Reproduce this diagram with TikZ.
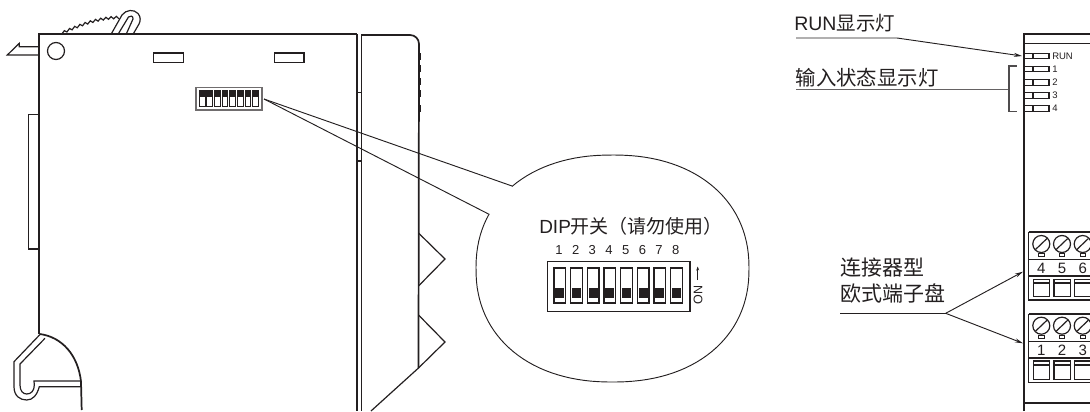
\documentclass[tikz,border=0pt]{standalone}
\usepackage{fontspec}
\setmainfont{Liberation Sans}
\newfontfamily\cjk{Noto Sans CJK SC}
\usetikzlibrary{arrows.meta}
\definecolor{ink}{HTML}{231F20}
\tikzset{
  line/.style={draw=ink,line width=0.9pt},
  thin line/.style={draw=ink,line width=0.65pt},
  heavy/.style={draw=ink,line width=1.3pt},
  leader/.style={draw=ink,line width=0.7pt},
  lbl/.style={inner sep=0pt,text=ink},
  lead arrow/.style={leader,-{Stealth[length=6pt,width=3pt]}},
}
\newcommand{\px}[1]{\fontsize{\fpeval{#1*0.75}pt}{\fpeval{#1*0.9}pt}\selectfont}
\begin{document}
\begin{tikzpicture}[x=0.75pt,y=-0.75pt]
\useasboundingbox (0,0) rectangle (1090,411);
% ---------- left device ----------
\draw[heavy] (39.3,334) -- (39.3,34) -- (357,34);
\draw[line] (39,46.7) -- (19.3,46.7) -- (19.3,43.3) -- (7.3,55) -- (39,55);
\draw[line] (56,51) circle (8.5);
\draw[line] (153.7,53) rectangle (183.7,62.7);
\draw[line] (274.3,53) rectangle (304,62.7);
\draw[line] (39,114.3) -- (28.3,114.3) -- (28.3,249) -- (39,249);
% knurled lever
\draw[line] plot[samples=23,domain=0:22] ({61.7+\x*2.6},{33-15.5*sin(\x*4.1)+1.2*cos(\x*180)});
\draw[line] (111.5,33.5) -- (122,15) .. controls (126,9.5) and (134,9) .. (138,13.5) .. controls (141,17) and (140.5,21) .. (139,24) -- (133.5,33.5);
\draw[line] (118.5,33.5) -- (128.5,17) .. controls (130,15) and (133.5,16) .. (133,19) -- (126.5,33.5);
% bottom hook
\draw[heavy] (39.8,334) .. controls (62,337) and (78,355) .. (81,381.5) -- (81.7,410);
\draw[line] (40,334.5) -- (14,361.7) -- (14,386.7) .. controls (14,396) and (20,400) .. (26.7,400) .. controls (33,400) and (37,395) .. (39.3,386.7) -- (81.7,386.7);
\draw[line] (45,338.3) -- (20,364) -- (20,385) .. controls (20,391) and (23,394) .. (26.7,394) .. controls (31,394) and (34.3,391) .. (34.3,385) -- (34,381) -- (81,381);
% right body
\draw[heavy] (357,34) -- (357,411);
\draw[line] (361.7,34) -- (361.7,411);
\draw[line] (357,92.3) -- (361.7,92.3) (357,161) -- (361.7,161);
\draw[heavy] (362,35) -- (410,35) .. controls (415,35) and (419,39) .. (419,44) -- (418.5,368);
\foreach \y in {53,65,78,90,105}
  \draw[draw=ink,line width=2pt] (419.2,\y) -- (419.2,\y+7);
\draw[line] (418.5,233) -- (445,259) -- (418.5,286);
\draw[line] (418.5,315) -- (445,342) -- (418.5,368) -- (371,411);
% mini DIP
\draw[draw=ink!65,line width=1.1pt] (196,87.3) rectangle (262,110);
\foreach \i in {0,...,7} {
  \fill[ink] ({199.3+\i*7.63},90.7) rectangle ({205+\i*7.63},97.2);
  \draw[thin line] ({199.3+\i*7.63},90.7) rectangle ({205+\i*7.63},106.7);
}
% callout
\coordinate (miniDip) at (264,99);
\coordinate (calloutA) at (512,186);
\coordinate (calloutB) at (488.5,214);
\draw[leader] (miniDip) -- (calloutA);
\draw[leader] (miniDip) -- (calloutB);
\draw[leader] (calloutA) -- plot[samples=120,domain=135.4:-206.4] ({612.5+136.5*(cos(\x)<0?-1:1)*abs(cos(\x))^0.91},{268.5-113.5*(sin(\x)<0?-1:1)*abs(sin(\x))^0.91}) -- (calloutB);
\node[lbl,anchor=west,font=\px{19}] (dipTitle) at (539,226.5) {DIP{\cjk 开关（请勿使用）}};
\foreach \n in {1,...,8}
  \node[lbl,font=\px{13}] (num\n) at ({559+(\n-1)*16.68},250.3) {\n};
\draw[line] (547.3,261.7) rectangle (690,311.7);
\foreach \i in {0,...,7} {
  \draw[line] ({554+\i*16.67},268) rectangle ({565.7+\i*16.67},303);
  \fill[ink] ({555.3+\i*16.67},288.3) rectangle ({564.3+\i*16.67},298.3);
}
\draw[thin line,-{Stealth[length=3pt,width=2.2pt]}] (697.7,280) -- (697.7,266.5);
\node[lbl,rotate=90,font=\px{12.5}] (onLabel) at (698,295) {ON};
% ---------- right device ----------
\draw[heavy] (1024,411) -- (1024,34) -- (1090,34);
\draw[line] (1024,43.3) -- (1090,43.3);
\foreach \y/\t in {56/RUN,69/1,82.3/2,95.3/3,108.3/4} {
  \draw[line] (1024,\y-2.8) rectangle (1049,\y+2.8);
  \draw[line] (1033,\y-2.8) -- (1033,\y+2.8);
  \node[lbl,anchor=west,font=\px{9.5}] at (1052,\y+0.3) {\t};
}
\node[lbl,anchor=west,font=\px{19.5}] (runLbl) at (794,23) {RUN{\cjk 显示灯}};
\coordinate (runA) at (796,38);
\coordinate (runB) at (897,38);
\coordinate (runLed) at (1022,56);
\draw[lead arrow] (runA) -- (runB) -- (runLed);
\node[lbl,anchor=west,font=\px{20.4}\cjk] (inLbl) at (795.5,77.5) {输入状态显示灯};
\draw[draw=ink!70,line width=1.1pt] (796,89.3) -- (1009,89.3);
\draw[draw=ink!80,line width=0.8pt] (1016.7,66) -- (1009,66) -- (1009,111.7) -- (1016.7,111.7);
% terminals
\foreach \top/\rowa/\rowb/\bot/\scr/\led/\num/\boxa/\boxi/\boxb/\la/\lb/\lc in {
   231.7/259.3/276/300/244/254.7/268/279.3/283/296.7/4/5/6,
   314/341.7/358/382.3/325.7/336.7/350.7/361/365/379.3/1/2/3} {
  \draw[heavy] (1028.7,\top) -- (1090,\top);
  \draw[line] (1028.7,\top) -- (1028.7,\bot) -- (1090,\bot);
  \draw[line] (1028.7,\rowa) -- (1090,\rowa) (1028.7,\rowb) -- (1090,\rowb);
  \foreach \c/\t in {0/\la,1/\lb,2/\lc} {
    \draw[line] ({1041.3+\c*20.7},\scr) circle (8.5);
    \draw[line] ({1035.5+\c*20.7},\scr+5.5) -- ({1047+\c*20.7},\scr-5.5);
    \draw[thin line] ({1038.6+\c*20.7},\led-1.6) rectangle ({1044+\c*20.7},\led+1.6);
    \node[lbl,font=\px{15}] at ({1041.3+\c*20.7},\num) {\t};
    \draw[line] ({1033.3+\c*20.7},\boxa) rectangle ({1049.8+\c*20.7},\boxb);
    \draw[line] ({1033.3+\c*20.7},\boxi) -- ({1049.8+\c*20.7},\boxi);
  }
}
\draw[line] (1024,403) -- (1090,403);
\node[lbl,anchor=west,font=\px{21}\cjk] (connA) at (840,268) {连接器型};
\node[lbl,anchor=west,font=\px{21}\cjk] (connB) at (840,293) {欧式端子盘};
\coordinate (connStart) at (840,313.3);
\coordinate (connMid) at (945.7,313.3);
\coordinate (term1) at (1023,271.7);
\coordinate (term2) at (1023,343.3);
\draw[leader] (connStart) -- (connMid);
\draw[lead arrow] (connMid) -- (term1);
\draw[lead arrow] (connMid) -- (term2);
\end{tikzpicture}
\end{document}
